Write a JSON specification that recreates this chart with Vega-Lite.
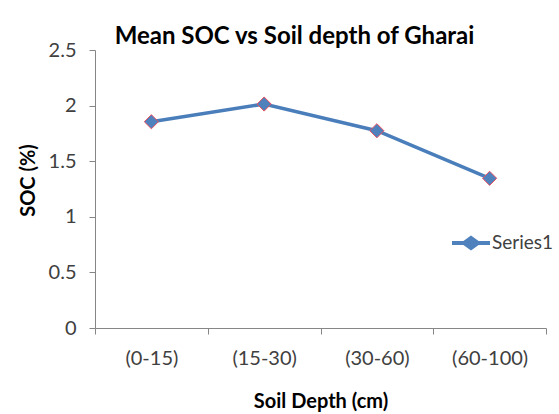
{
  "$schema": "https://vega.github.io/schema/vega-lite/v6.json",
  "autosize": {"type": "none"},
  "width": 451,
  "height": 278,
  "padding": {"left": 95, "top": 50, "right": 13, "bottom": 86},
  "background": "white",
  "config": {
    "view": {"stroke": null},
    "font": "Lato",
    "axis": {"grid": false, "domainColor": "#868686", "tickColor": "#868686", "labelColor": "#404040", "labelFont": "Lato", "labelFontSize": 20, "titleFont": "Lato", "titleFontSize": 20, "titleFontWeight": "bold", "titleColor": "#000000", "tickSize": 6, "domainWidth": 1, "tickWidth": 1}
  },
  "title": {"text": "Mean SOC vs Soil depth of Gharai", "font": "Lato", "fontSize": 24, "fontWeight": "bold", "color": "#000000", "anchor": "middle", "frame": "group", "dx": -26, "dy": 35, "baseline": "bottom", "offset": 2},
  "data": {"values": [
    {"depth": "(0-15)", "soc": 1.855, "series": "Series1"},
    {"depth": "(15-30)", "soc": 2.014, "series": "Series1"},
    {"depth": "(30-60)", "soc": 1.774, "series": "Series1"},
    {"depth": "(60-100)", "soc": 1.346, "series": "Series1"}
  ]},
  "encoding": {
    "x": {"field": "depth", "type": "ordinal", "sort": null, "scale": {"type": "band", "paddingInner": 0, "paddingOuter": 0},
      "axis": {"title": "Soil Depth (cm)", "labelAngle": 0, "tickBand": "extent", "labelPadding": 14, "titlePadding": 23}},
    "y": {"field": "soc", "type": "quantitative", "scale": {"domain": [0, 2.5], "nice": false},
      "axis": {"title": "SOC (%)", "values": [0, 0.5, 1, 1.5, 2, 2.5], "format": "~g", "labelPadding": 13, "titlePadding": 10, "titleY": 130}}
  },
  "layer": [
    {"mark": {"type": "line", "color": "#4A7EBB", "strokeWidth": 3.5}},
    {"mark": {"type": "point", "shape": "diamond", "filled": true, "fill": "#4F81BD", "stroke": "#E8505F", "strokeWidth": 1, "size": 200, "opacity": 1},
      "encoding": {"color": {"field": "series", "type": "nominal", "scale": {"range": ["#4F81BD"]},
        "legend": {"title": null, "orient": "none", "legendX": 357, "legendY": 174, "symbolType": "M-1,-0.1H-0.4L0,-0.4L0.4,-0.1H1V0.1H0.4L0,0.4L-0.4,0.1H-1Z", "symbolSize": 1444, "symbolFillColor": "#4F81BD", "symbolStrokeColor": "#4F81BD", "symbolStrokeWidth": 0, "labelFont": "Lato", "labelFontSize": 19, "labelColor": "#404040", "labelOffset": 2}}}}
  ]
}
